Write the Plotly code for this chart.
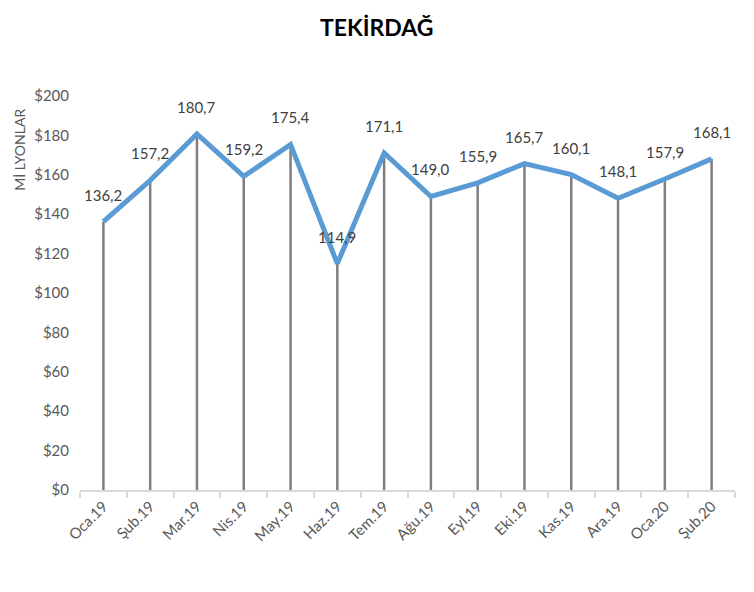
import plotly.graph_objects as go

months = ["Oca.19", "Şub.19", "Mar.19", "Nis.19", "May.19", "Haz.19", "Tem.19",
          "Ağu.19", "Eyl.19", "Eki.19", "Kas.19", "Ara.19", "Oca.20", "Şub.20"]
values = [136.2, 157.2, 180.7, 159.2, 175.4, 114.9, 171.1,
          149.0, 155.9, 165.7, 160.1, 148.1, 157.9, 168.1]
y_ticks = [0, 20, 40, 60, 80, 100, 120, 140, 160, 180, 200]

FONT = "Lato"

fig = go.Figure()

# drop lines
fig.add_trace(go.Scatter(
    x=months, y=values, mode="markers",
    marker=dict(size=0.1, color="rgba(0,0,0,0)"),
    error_y=dict(type="data", symmetric=False, array=[0] * len(values),
                 arrayminus=values, color="#7f7f7f", thickness=2.5, width=0),
    hoverinfo="skip", showlegend=False,
))

fig.add_trace(go.Scatter(
    x=months, y=values, mode="lines",
    line=dict(color="#5B9BD5", width=5),
    showlegend=False,
))

for m, v in zip(months, values):
    fig.add_annotation(x=m, y=v, text=f"{v:.1f}".replace(".", ","),
                       showarrow=False, yshift=27,
                       font=dict(family=FONT, size=15, color="#404040"))

fig.add_annotation(xref="paper", yref="paper", x=-0.092, y=0.863,
                   text="Mİ LYONLAR", textangle=-90, showarrow=False,
                   xanchor="center", yanchor="middle",
                   font=dict(family=FONT, size=14, color="#595959"))

fig.update_layout(
    width=754, height=592,
    margin=dict(l=72, r=27, t=88, b=110),
    plot_bgcolor="white", paper_bgcolor="white",
    title=dict(text="<b>TEKİRDAĞ</b>", x=0.489, xref="container", xanchor="center",
               y=1 - 20 / 592, yref="container", yanchor="middle",
               font=dict(family=FONT, size=23, color="#000000")),
    font=dict(family=FONT),
)

fig.update_xaxes(type="category", range=[-0.5, len(months) - 0.5],
                 showgrid=False, showline=True, linecolor="#d9d9d9",
                 linewidth=1.5, ticks="outside", tickson="boundaries", ticklen=6,
                 tickcolor="#d9d9d9", tickwidth=1.5, tickangle=-45, automargin=False,
                 tickfont=dict(family=FONT, size=15, color="#595959"))
fig.update_yaxes(range=[0, 200], tickvals=y_ticks, ticktext=[f"${t}" for t in y_ticks],
                 showgrid=False, zeroline=False, showline=False, automargin=False,
                 ticklabelstandoff=10,
                 tickfont=dict(family=FONT, size=15, color="#595959"))

fig.write_html("out.html")
